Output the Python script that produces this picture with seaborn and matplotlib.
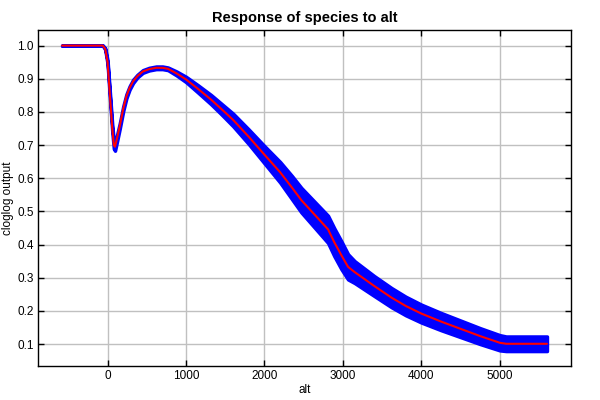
import numpy as np
import pandas as pd
import matplotlib
matplotlib.use("Agg")
import matplotlib.pyplot as plt
import seaborn as sns

# values (mean response and +/- 1 sd band)
alt = [-580, -300, -60, -30, 0, 30, 60, 80, 95, 120, 155, 200, 240, 280, 325,
       380, 450, 530, 620, 700, 770, 880, 1000, 1150, 1320, 1450, 1600, 1800,
       2000, 2200, 2350, 2470, 2640, 2810, 2890, 2980, 3065, 3150, 3400, 3620,
       3800, 4000, 4250, 4500, 4750, 5000, 5080, 5600]
mean = [1.0, 1.0, 1.0, 0.99, 0.95, 0.85, 0.75, 0.70, 0.695, 0.72, 0.757, 0.81,
        0.847, 0.872, 0.892, 0.908, 0.922, 0.929, 0.933, 0.933, 0.930, 0.916,
        0.898, 0.870, 0.837, 0.809, 0.776, 0.725, 0.671, 0.618, 0.572, 0.534,
        0.490, 0.446, 0.407, 0.368, 0.333, 0.317, 0.275, 0.240, 0.215, 0.192,
        0.168, 0.146, 0.124, 0.104, 0.101, 0.101]
sd = [0.0, 0.0, 0.0, 0.002, 0.005, 0.008, 0.010, 0.011, 0.012, 0.010, 0.008,
      0.007, 0.006, 0.005, 0.005, 0.004, 0.004, 0.004, 0.004, 0.004, 0.004,
      0.006, 0.008, 0.011, 0.014, 0.016, 0.019, 0.022, 0.026, 0.031, 0.035,
      0.037, 0.039, 0.041, 0.042, 0.042, 0.038, 0.033, 0.030, 0.029, 0.028,
      0.027, 0.026, 0.025, 0.024, 0.023, 0.022, 0.022]

df = pd.DataFrame({"alt": alt, "mean": mean, "sd": sd})
df["lo"] = df["mean"] - df["sd"]
df["hi"] = df["mean"] + df["sd"]

sns.set_theme(style="whitegrid")
plt.rcParams["font.family"] = ["Liberation Sans", "DejaVu Sans"]
plt.rcParams["text.color"] = "black"
plt.rcParams["axes.labelcolor"] = "black"

fig, ax = plt.subplots(figsize=(6, 4), dpi=100)
fig.subplots_adjust(left=0.063, right=0.952, top=0.925, bottom=0.085)

ax.fill_between(df["alt"], df["lo"], df["hi"], color="#0000ff",
                edgecolor="#0000ff", linewidth=2.5, zorder=2)
sns.lineplot(data=df, x="alt", y="mean", color="#ff0000", linewidth=1.5,
             ax=ax, zorder=3)

ax.set_xticks([0, 1000, 2000, 3000, 4000, 5000])
ax.set_yticks(np.arange(0.1, 1.01, 0.1))
ax.yaxis.set_major_formatter(matplotlib.ticker.FormatStrFormatter("%.1f"))
ax.set_ylim(0.034, 1.047)

ax.set_facecolor("white")
ax.grid(True, color="#c0c0c0", linewidth=1.0)
for sp in ax.spines.values():
    sp.set_color("black")
    sp.set_linewidth(1.0)
ax.tick_params(direction="in", length=4, width=1, color="black",
               top=True, right=True, left=True, bottom=True,
               labelsize=8.5, pad=3, labelcolor="black")

ax.set_title("Response of species to alt", fontsize=10.5, fontweight="bold",
             pad=6, color="black")
ax.set_xlabel("alt", fontsize=8.5, labelpad=1)
ax.set_ylabel("cloglog output", fontsize=8.5, labelpad=2)

fig.savefig("out.png", dpi=100)
